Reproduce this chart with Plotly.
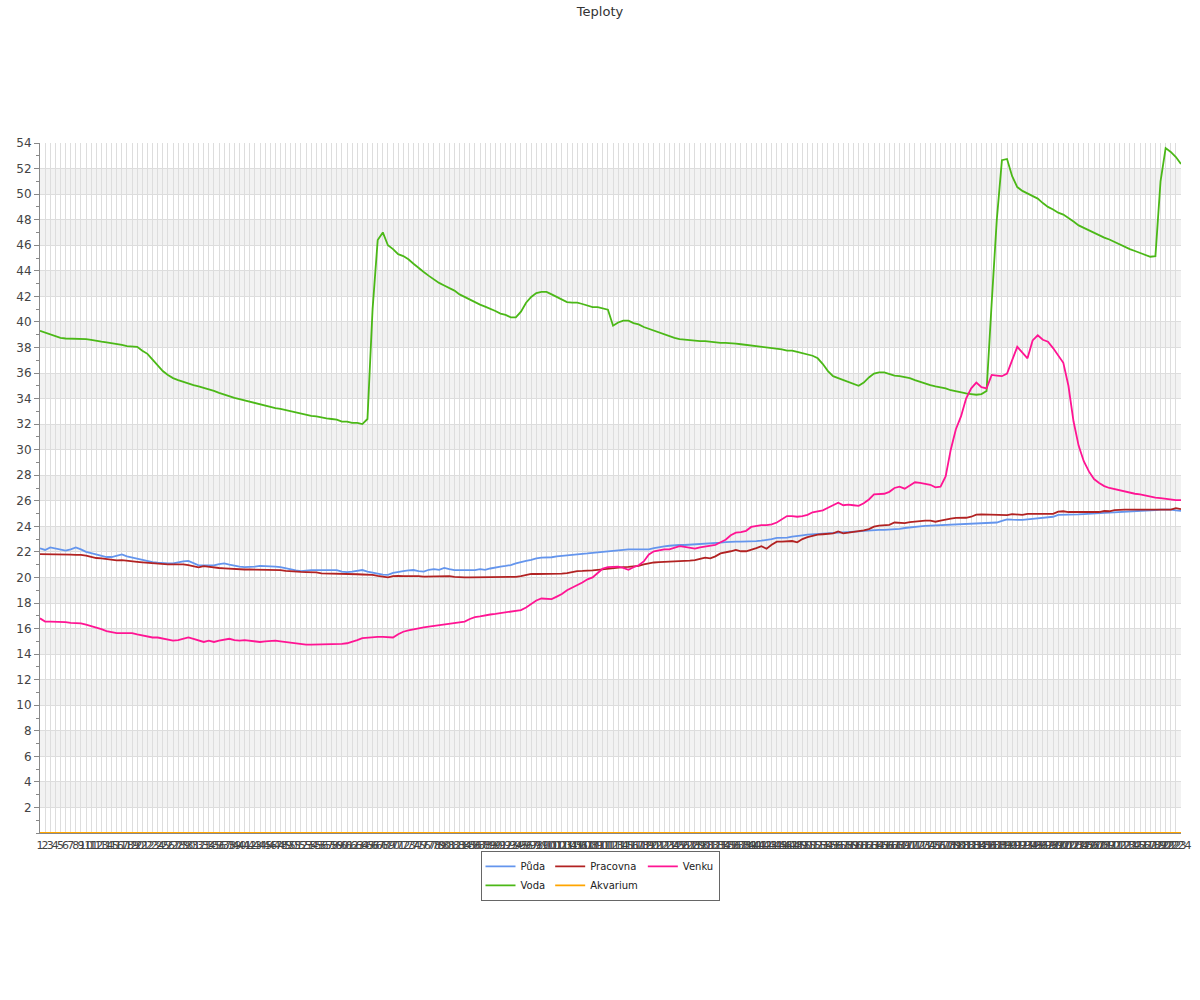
import plotly.graph_objects as go

categories = [str(i) for i in range(1, 225)]

puda = [
    22.28, 22.15, 22.35, 22.25, 22.15, 22.1, 22.2, 22.35, 22.2, 22.0,
    21.9, 21.8, 21.7, 21.6, 21.6, 21.7, 21.8, 21.65, 21.55, 21.45,
    21.35, 21.25, 21.2, 21.15, 21.1, 21.1, 21.1, 21.2, 21.25, 21.3,
    21.1, 20.95, 20.95, 20.95, 20.95, 21.05, 21.1, 21.0, 20.9, 20.85,
    20.8, 20.8, 20.85, 20.9, 20.9, 20.9, 20.85, 20.8, 20.7, 20.6,
    20.55, 20.5, 20.55, 20.58, 20.58, 20.58, 20.58, 20.58, 20.58, 20.45,
    20.42, 20.45, 20.5, 20.58, 20.45, 20.35, 20.3, 20.22, 20.2, 20.35,
    20.45, 20.5, 20.55, 20.58, 20.5, 20.45, 20.6, 20.65, 20.6, 20.75,
    20.65, 20.58, 20.58, 20.58, 20.58, 20.58, 20.65, 20.6, 20.7, 20.8,
    20.85, 20.9, 20.97, 21.1, 21.22, 21.3, 21.38, 21.5, 21.55, 21.55,
    21.58, 21.65, 21.7, 21.75, 21.8, 21.82, 21.85, 21.88, 21.92, 21.97,
    22.02, 22.05, 22.1, 22.13, 22.17, 22.2, 22.2, 22.2, 22.2, 22.2,
    22.3, 22.38, 22.43, 22.48, 22.52, 22.54, 22.54, 22.56, 22.58, 22.6,
    22.62, 22.66, 22.7, 22.72, 22.76, 22.8, 22.8, 22.8, 22.8, 22.8,
    22.85, 22.88, 22.93, 23.0, 23.1, 23.1, 23.12, 23.2, 23.27, 23.3,
    23.35, 23.37, 23.38, 23.4, 23.45, 23.48, 23.5, 23.52, 23.55, 23.58,
    23.6, 23.64, 23.68, 23.7, 23.72, 23.72, 23.74, 23.76, 23.8, 23.87,
    23.93, 23.97, 24.0, 24.03, 24.05, 24.07, 24.08, 24.1, 24.1, 24.12,
    24.14, 24.15, 24.18, 24.2, 24.24, 24.26, 24.28, 24.3, 24.42, 24.55,
    24.52, 24.49, 24.5, 24.55, 24.58, 24.6, 24.63, 24.67, 24.75, 24.9,
    24.9, 24.92, 24.93, 24.94, 24.96, 24.97, 25.0, 25.02, 25.05, 25.07,
    25.1, 25.12, 25.14, 25.15, 25.18, 25.2, 25.22, 25.25, 25.28, 25.3,
    25.32, 25.3, 25.25, 25.22,
]

voda = [
    39.3, 39.15, 39.0, 38.85, 38.75, 38.7, 38.7, 38.7, 38.7, 38.65,
    38.6, 38.5, 38.45, 38.4, 38.35, 38.3, 38.2, 38.1, 38.05, 38.05,
    37.75, 37.5, 37.05, 36.6, 36.15, 35.85, 35.6, 35.45, 35.3, 35.2,
    35.05, 34.95, 34.85, 34.7, 34.6, 34.45, 34.3, 34.2, 34.05, 33.95,
    33.85, 33.7, 33.6, 33.5, 33.4, 33.35, 33.25, 33.2, 33.1, 33.05,
    32.9, 32.8, 32.75, 32.65, 32.6, 32.5, 32.45, 32.4, 32.35, 32.2,
    32.2, 32.1, 32.1, 32.0, 32.4, 41.0, 46.4, 47.0, 46.0, 45.7,
    45.3, 45.15, 44.9, 44.55, 44.2, 43.9, 43.6, 43.3, 43.05, 42.85,
    42.65, 42.45, 42.15, 41.95, 41.7, 41.5, 41.35, 41.2, 41.05, 40.85,
    40.65, 40.55, 40.35, 40.35, 40.8, 41.5, 41.95, 42.25, 42.35, 42.35,
    42.15, 41.95, 41.7, 41.55, 41.5, 41.5, 41.4, 41.3, 41.15, 41.15,
    41.05, 40.95, 39.7, 39.95, 40.1, 40.1, 39.9, 39.8, 39.6, 39.45,
    39.3, 39.15, 39.0, 38.9, 38.75, 38.65, 38.6, 38.6, 38.55, 38.5,
    38.5, 38.45, 38.35, 38.35, 38.35, 38.35, 38.3, 38.25, 38.2, 38.2,
    38.1, 38.05, 38.05, 37.95, 37.9, 37.85, 37.75, 37.75, 37.65, 37.55,
    37.45, 37.35, 37.15, 36.7, 36.15, 35.75, 35.6, 35.45, 35.3, 35.2,
    35.0, 35.25, 35.65, 35.95, 36.05, 36.05, 35.9, 35.8, 35.75, 35.7,
    35.6, 35.45, 35.3, 35.2, 35.05, 34.95, 34.9, 34.8, 34.65, 34.55,
    34.5, 34.4, 34.35, 34.3, 34.35, 34.6, 41.5, 48.0, 52.65, 52.75,
    51.4, 50.55, 50.25, 50.05, 49.85, 49.65, 49.3, 49.0, 48.8, 48.55,
    48.4, 48.15, 47.85, 47.55, 47.35, 47.15, 46.95, 46.8, 46.6, 46.45,
    46.25, 46.05, 45.85, 45.7, 45.55, 45.4, 45.3, 45.1, 45.15, 51.0,
    53.6, 53.3, 52.9, 52.35,
]

pracovna = [
    21.83, 21.83, 21.83, 21.83, 21.83, 21.83, 21.78, 21.76, 21.76, 21.7,
    21.6, 21.52, 21.49, 21.43, 21.35, 21.33, 21.36, 21.33, 21.27, 21.22,
    21.18, 21.15, 21.1, 21.05, 21.02, 21.02, 21.02, 21.02, 21.02, 20.96,
    20.9, 20.79, 20.88, 20.82, 20.78, 20.74, 20.71, 20.68, 20.64, 20.62,
    20.62, 20.62, 20.62, 20.62, 20.62, 20.62, 20.62, 20.58, 20.52, 20.48,
    20.46, 20.43, 20.42, 20.41, 20.4, 20.32, 20.31, 20.31, 20.31, 20.31,
    20.31, 20.31, 20.25, 20.23, 20.23, 20.2, 20.12, 20.04, 20.0, 20.1,
    20.13, 20.1, 20.12, 20.14, 20.11, 20.07, 20.08, 20.12, 20.14, 20.13,
    20.11, 20.04, 20.0, 20.0, 20.0, 20.0, 20.0, 20.0, 20.0, 20.0,
    20.0, 20.0, 20.0, 20.05, 20.1, 20.2, 20.27, 20.27, 20.27, 20.27,
    20.27, 20.27, 20.3, 20.33, 20.4, 20.5, 20.51, 20.52, 20.56, 20.6,
    20.65, 20.7, 20.74, 20.77, 20.8, 20.82, 20.84, 20.9, 21.02, 21.12,
    21.17, 21.2, 21.23, 21.25, 21.27, 21.29, 21.3, 21.32, 21.35, 21.45,
    21.55, 21.5, 21.65, 21.88, 21.95, 22.05, 22.15, 22.05, 22.05, 22.15,
    22.3, 22.45, 22.25, 22.55, 22.8, 22.8, 22.8, 22.85, 22.75, 23.0,
    23.15, 23.28, 23.35, 23.38, 23.4, 23.45, 23.6, 23.45, 23.5, 23.55,
    23.6, 23.68, 23.78, 23.97, 24.05, 24.08, 24.12, 24.3, 24.25, 24.25,
    24.33, 24.38, 24.44, 24.44, 24.44, 24.36, 24.45, 24.55, 24.6, 24.66,
    24.67, 24.67, 24.75, 24.92, 24.93, 24.93, 24.93, 24.93, 24.88, 24.88,
    24.95, 24.93, 24.9, 24.97, 24.97, 24.97, 24.97, 24.97, 24.97, 25.15,
    25.18, 25.12, 25.12, 25.12, 25.12, 25.12, 25.12, 25.12, 25.2, 25.18,
    25.27, 25.3, 25.3, 25.3, 25.3, 25.3, 25.3, 25.3, 25.3, 25.32,
    25.3, 25.3, 25.42, 25.35,
]

akvarium = [
    0, 0, 0, 0, 0, 0, 0, 0, 0, 0, 0, 0, 0, 0, 0, 0, 0, 0, 0, 0,
    0, 0, 0, 0, 0, 0, 0, 0, 0, 0, 0, 0, 0, 0, 0, 0, 0, 0, 0, 0,
    0, 0, 0, 0, 0, 0, 0, 0, 0, 0, 0, 0, 0, 0, 0, 0, 0, 0, 0, 0,
    0, 0, 0, 0, 0, 0, 0, 0, 0, 0, 0, 0, 0, 0, 0, 0, 0, 0, 0, 0,
    0, 0, 0, 0, 0, 0, 0, 0, 0, 0, 0, 0, 0, 0, 0, 0, 0, 0, 0, 0,
    0, 0, 0, 0, 0, 0, 0, 0, 0, 0, 0, 0, 0, 0, 0, 0, 0, 0, 0, 0,
    0, 0, 0, 0, 0, 0, 0, 0, 0, 0, 0, 0, 0, 0, 0, 0, 0, 0, 0, 0,
    0, 0, 0, 0, 0, 0, 0, 0, 0, 0, 0, 0, 0, 0, 0, 0, 0, 0, 0, 0,
    0, 0, 0, 0, 0, 0, 0, 0, 0, 0, 0, 0, 0, 0, 0, 0, 0, 0, 0, 0,
    0, 0, 0, 0, 0, 0, 0, 0, 0, 0, 0, 0, 0, 0, 0, 0, 0, 0, 0, 0,
    0, 0, 0, 0, 0, 0, 0, 0, 0, 0, 0, 0, 0, 0, 0, 0, 0, 0, 0, 0,
    0, 0, 0, 0,
]

venku = [
    16.8, 16.55, 16.55, 16.55, 16.55, 16.5, 16.45, 16.45, 16.4, 16.3,
    16.2, 16.05, 15.95, 15.8, 15.7, 15.65, 15.65, 15.65, 15.65, 15.55,
    15.45, 15.35, 15.3, 15.3, 15.2, 15.1, 15.05, 15.1, 15.2, 15.3,
    15.2, 15.1, 14.95, 15.05, 14.95, 15.05, 15.1, 15.2, 15.1, 15.05,
    15.1, 15.05, 14.95, 14.95, 15.0, 15.05, 15.05, 15.0, 14.95, 14.9,
    14.85, 14.75, 14.75, 14.75, 14.75, 14.75, 14.75, 14.75, 14.75, 14.8,
    14.85, 14.95, 15.1, 15.25, 15.3, 15.3, 15.35, 15.35, 15.3, 15.3,
    15.55, 15.75, 15.85, 15.95, 16.05, 16.1, 16.15, 16.2, 16.25, 16.3,
    16.35, 16.4, 16.45, 16.55, 16.75, 16.9, 16.95, 17.05, 17.1, 17.15,
    17.2, 17.25, 17.3, 17.4, 17.45, 17.65, 17.9, 18.2, 18.35, 18.3,
    18.3, 18.5, 18.7, 19.0, 19.2, 19.35, 19.6, 19.85, 20.0, 20.35,
    20.7, 20.8, 20.85, 20.85, 20.75, 20.6, 20.8, 20.95, 21.25, 21.8,
    22.05, 22.15, 22.2, 22.2, 22.35, 22.45, 22.4, 22.35, 22.25, 22.35,
    22.4, 22.45, 22.55, 22.75, 22.95, 23.3, 23.5, 23.55, 23.65, 23.95,
    24.05, 24.1, 24.1, 24.15, 24.3, 24.55, 24.8, 24.8, 24.75, 24.8,
    24.9, 25.1, 25.2, 25.25, 25.45, 25.65, 25.85, 25.65, 25.7, 25.65,
    25.6, 25.8, 26.1, 26.5, 26.55, 26.55, 26.7, 27.0, 27.1, 26.95,
    27.2, 27.45, 27.4, 27.35, 27.25, 27.05, 27.1, 27.9, 30.0, 31.6,
    32.6, 34.0, 34.8, 35.25, 34.9, 34.8, 35.85, 35.8, 35.75, 35.95,
    37.0, 38.05, 37.6, 37.15, 38.55, 38.95, 38.6, 38.45, 37.95, 37.4,
    36.8, 35.0, 32.2, 30.3, 29.1, 28.3, 27.7, 27.4, 27.15, 27.0,
    26.9, 26.8, 26.75, 26.65, 26.55, 26.5, 26.4, 26.3, 26.25, 26.2,
    26.15, 26.05, 26.05, 26.05,
]

y_ticks = list(range(2, 55, 2))
band_starts = list(range(2, 52, 4))

series = [
    ("Půda", puda, "#6495ED", "g1"),
    ("Voda", voda, "#4BB817", "g1"),
    ("Pracovna", pracovna, "#B22222", "g2"),
    ("Akvarium", akvarium, "#FFA500", "g2"),
    ("Venku", venku, "#FF1493", "g3"),
]

fig = go.Figure()
for name, vals, color, grp in series:
    fig.add_trace(go.Scatter(
        x=categories, y=vals, name=name, mode="lines",
        line=dict(color=color, width=1.8), legendgroup=grp,
    ))

for b in band_starts:
    fig.add_shape(type="rect", xref="paper", yref="y", x0=0, x1=1, y0=b, y1=b + 2,
                  fillcolor="#F2F2F2", line=dict(width=0), layer="below")

font_family = "DejaVu Sans, Verdana, sans-serif"
fig.update_layout(
    width=1200, height=1000,
    margin=dict(l=40, r=19, t=143, b=167, autoexpand=False),
    paper_bgcolor="white", plot_bgcolor="white",
    font=dict(family=font_family, size=11, color="#444"),
    title=dict(text="Teploty", x=0.5, xanchor="center", xref="container",
               y=1 - 11 / 1000, yanchor="middle", yref="container",
               font=dict(size=13, color="#333", family=font_family)),
    showlegend=True,
    legend=dict(orientation="h", x=(600 - 40) / 1141, xanchor="center",
                y=-0.026, yanchor="top",
                bordercolor="#666", borderwidth=1, bgcolor="white",
                font=dict(size=10, color="#222"), traceorder="grouped",
                tracegroupgap=0, itemwidth=30),
)
fig.update_xaxes(
    type="category", categoryorder="array", categoryarray=categories,
    range=[0, len(categories) - 1], automargin=False,
    tickmode="linear", tick0=0, dtick=1, tickangle=0,
    showgrid=True, gridcolor="#DDDDDD", gridwidth=1,
    showline=True, linecolor="#888", ticks="", ticklabelstandoff=2,
    tickfont=dict(size=11, color="#444"), zeroline=False,
)
fig.update_yaxes(
    range=[0, 54], tickmode="array", tickvals=y_ticks, automargin=False,
    showgrid=True, gridcolor="#DDDDDD", gridwidth=1,
    showline=True, linecolor="#888", ticks="outside", ticklen=5, tickcolor="#888",
    minor=dict(tickmode="linear", tick0=0, dtick=1, ticks="outside", ticklen=3,
               tickcolor="#888", showgrid=False),
    tickfont=dict(size=12, color="#444"), zeroline=False,
)

fig.write_html("out.html", config={"displayModeBar": False},
               post_script="document.body.style.margin='0px';")
